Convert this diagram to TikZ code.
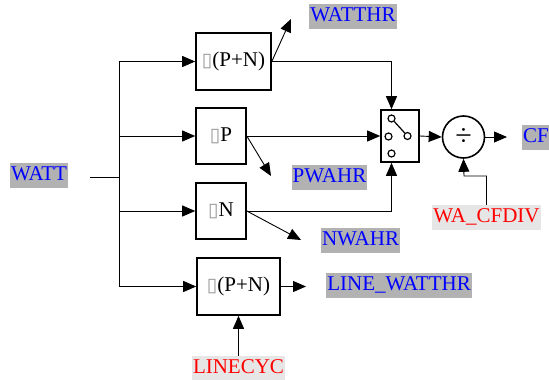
\documentclass[tikz,border=0pt]{standalone}
\usepackage{fontspec}
\setmainfont{Liberation Serif}
\newfontfamily\symfont{DejaVu Sans}
\usetikzlibrary{arrows.meta}
\definecolor{lblgray}{RGB}{178,178,178}
\definecolor{lblred}{RGB}{230,230,230}
\newcommand{\tofu}{{\symfont\color{gray!80}\fontsize{19}{19}\selectfont ▯}}
\begin{document}
\begin{tikzpicture}[x=1pt,y=-1pt,
  font=\fontsize{21}{23}\selectfont,
  blk/.style={draw,line width=1.6pt,inner sep=0pt,font=\fontsize{21}{23}\selectfont},
  outlbl/.style={fill=lblgray,text=blue,inner xsep=1pt,inner ysep=1pt,text height=16pt,text depth=7pt},
  inlbl/.style={fill=lblred,text=red,inner xsep=1pt,inner ysep=1pt,text height=16pt,text depth=7pt},
  arr/.style={-{Triangle[length=13pt,width=11pt]}},
  ln/.style={line width=0.9pt},
  pin/.style={draw,line width=1.2pt,circle,inner sep=0pt,minimum size=7pt}]
\useasboundingbox (0,0) rectangle (549,380);

% labels
\node[outlbl] (watt) at (39,175.5) {WATT};
\node[outlbl] (watthr) at (353,16.5) {WATTHR};
\node[outlbl] (pwahr) at (329.5,177.5) {PWAHR};
\node[outlbl] (nwahr) at (360.5,240.5) {NWAHR};
\node[outlbl] (lwatthr) at (399,285.5) {LINE\_WATTHR};
\node[outlbl,anchor=west] (cf) at (522,137.5) {CF};
\node[inlbl] (lcyc) at (238.5,368.5) {LINECYC};
\node[inlbl] (wacf) at (486.5,217.5) {WA\_CFDIV};

% blocks
\node[blk,minimum width=75pt,minimum height=57pt] (b1) at (233.5,61.5) {\tofu(P+N)};
\node[blk,minimum width=50pt,minimum height=56pt] (b2) at (221,136) {\tofu P};
\node[blk,minimum width=50pt,minimum height=56pt] (b3) at (221,211) {\tofu N};
\node[blk,minimum width=83pt,minimum height=57pt] (b4) at (238.5,286.5) {\tofu(P+N)};
\node[blk,minimum width=38pt,minimum height=52pt] (sw) at (400,136) {};
\node[blk,circle,minimum size=42pt,font=\fontsize{30}{30}\selectfont] (div) at (463.5,137) {÷};

% switch internals
\node[pin] (p1) at (391.5,118.5) {};
\node[pin] (p2) at (388.5,136.5) {};
\node[pin] (p3) at (407.5,136) {};
\node[pin] (p4) at (391.5,153.5) {};
\draw[line width=1.2pt] (p1) -- (p3);

% coordinates
\coordinate (w0) at (90,177);
\coordinate (bus) at (119,177);
\coordinate (t1) at (119,61.5);
\coordinate (t4) at (119,286.5);
\coordinate (a1) at (291,19);
\coordinate (a2) at (271,176);
\coordinate (a3) at (301,240);
\coordinate (a4) at (306,286.5);
\coordinate (cfend) at (507,137);
\coordinate (k) at (464,176);

% connectors
\draw[ln] (w0) -- (bus);
\draw[ln] (t1) -- (t4);
\draw[ln,arr] (t1) -- (b1.west);
\draw[ln,arr] (t1 |- b2.west) -- (b2.west);
\draw[ln,arr] (t1 |- b3.west) -- (b3.west);
\draw[ln,arr] (t4) -- (b4.west);

\draw[ln,arr] (b1.east) -- (a1);
\draw[ln,arr] (b2.east) -- (a2);
\draw[ln,arr] (b3.east) -- (a3);
\draw[ln,arr] (b4.east) -- (a4);

\draw[ln,arr] (b1.east) -| ([xshift=-8.5pt]sw.north);
\draw[ln,arr] (b2.east) -- (sw.west |- b2.east);
\draw[ln,arr] (b3.east) -| ([xshift=-8.5pt]sw.south);
\draw[ln,arr] (sw.east) -- (div.west);
\draw[ln,arr] (div.east) -- (cfend);
\draw[ln,arr] (wacf.north) |- (k) -- (div.south);
\draw[ln,arr] (lcyc.north) -- (b4.south);
\end{tikzpicture}
\end{document}
